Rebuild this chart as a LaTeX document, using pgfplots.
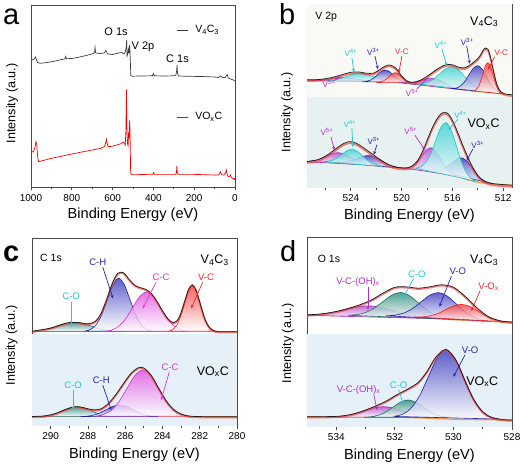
\documentclass[border=0pt]{standalone}
\usepackage{fontspec}
\setmainfont{Liberation Sans}
\usepackage{pgfplots}
\pgfplotsset{compat=1.18}
\usepackage{pgfplotstable}
\usetikzlibrary{arrows.meta}
\newcommand{\fs}[1]{\fontsize{#1}{#1}\selectfont}
\definecolor{cfit}{HTML}{1E1E1E}
\definecolor{cdata}{HTML}{F2453D}
\definecolor{cblue}{HTML}{3A3ABF}
\definecolor{cblueD}{HTML}{22229A}
\definecolor{cpur}{HTML}{B44AD0}
\definecolor{cpurD}{HTML}{9B2BB8}
\definecolor{cmag}{HTML}{E050E0}
\definecolor{cmagD}{HTML}{C830C8}
\definecolor{ccyan}{HTML}{38D0D0}
\definecolor{ccyanD}{HTML}{22C0C4}
\definecolor{cteal}{HTML}{2A8A78}
\definecolor{ctealD}{HTML}{1F6F62}
\definecolor{cred}{HTML}{F23A3A}
\definecolor{credD}{HTML}{F01E1E}
\definecolor{cbase}{HTML}{F29A52}
\definecolor{cyel}{HTML}{E2DF90}
\definecolor{bandB}{HTML}{E8F1F1}
\definecolor{bandBu}{HTML}{F9FAF6}
\definecolor{bandC}{HTML}{E6F0F8}
\definecolor{frame}{HTML}{4A4A4A}
\definecolor{labcyan}{HTML}{20C8D0}
\definecolor{labblue}{HTML}{2525A8}
\definecolor{labpur}{HTML}{B030C8}
\definecolor{labmag}{HTML}{D838D8}
\definecolor{labred}{HTML}{F02828}
\definecolor{cgray}{HTML}{3C3C3C}
\tikzset{
 comp/.style 2 args={draw=#1, line width=0.6pt, smooth, top color=#2, bottom color=white, fill opacity=0.8},
 arr/.style={-{Stealth[length=3.5pt,width=3pt]}, line width=0.7pt},
 datal/.style={smooth, draw=cdata, line width=1.8pt, opacity=0.7},
 fitl/.style={smooth, draw=cfit, line width=0.7pt},
 lab/.style={font=\fs{9.5}, inner sep=0pt},
 labs/.style={font=\fs{8}, inner sep=0pt},
}
\pgfplotsset{
 xps/.style={
  scale only axis, x dir=reverse, ymin=0, ytick=\empty,
  tick align=outside, xtick pos=bottom,
  axis line style={draw=frame, line width=0.9pt},
  every tick/.style={draw=frame, line width=0.8pt},
  major tick length=3.5pt, minor tick length=2pt,
  ticklabel style={font=\fs{10}},
  /pgf/number format/assume math mode=true,
  /pgf/number format/1000 sep={},
  xlabel={Binding Energy (eV)}, ylabel={Intensity (a.u.)},
  xlabel style={font=\fs{14.6}, at={(axis description cs:0.5,-0.155)}, anchor=center},
  ylabel style={font=\fs{12.6}, anchor=center},
  anchor=south west, clip=true,
 }}

% ---- envelopes ----
\pgfplotstableread{
x y
511.3 93
511.8 93.6
512.2 96.3
512.5 103.4
512.8 118.8
513.0 130.7
513.2 138.6
513.4 139.7
513.6 136.9
513.8 132.3
514.0 128.9
514.3 125.7
514.6 122.8
515.0 119.9
515.5 120.5
516.0 122.9
516.5 123
517.0 120.1
517.5 115.9
518.0 111.3
518.5 107.6
519.0 105.3
519.5 106.1
520.0 111.7
520.5 120.1
521.0 122.8
521.3 121.6
521.7 118.4
522.2 114.5
522.8 114.5
523.3 115.6
524.0 115.4
524.7 113
525.5 110.2
526.5 108.2
527.5 108
}\envBu
\pgfplotstableread{
x y
511.3 2.5
512.5 3.6
513.0 4.5
513.5 6.8
513.9 10.8
514.3 18.2
514.6 25.5
514.9 33.8
515.2 42.9
515.5 52.6
515.8 61.9
516.1 69.7
516.4 74.6
516.7 75.3
517.0 72.6
517.3 66.9
517.6 59.4
517.9 50.2
518.2 40.7
518.5 32.3
518.8 26.1
519.2 21.5
519.6 19.8
520.2 20.1
520.8 21.9
521.3 24.9
521.8 29
522.3 33.6
522.8 38.1
523.3 42.5
523.8 45.7
524.2 45.9
524.6 44
525.0 40.6
525.5 35.9
526.0 31.6
526.6 28
527.5 26.2
}\envBl
\pgfplotstableread{
x y
280 94
281.0 94.1
281.4 96.8
281.7 105.6
282.0 123.7
282.2 135.7
282.4 140.9
282.6 136.1
282.8 124.7
283.1 108.2
283.4 103
283.7 106.7
284.0 114.9
284.3 124.4
284.6 132.3
284.9 136.4
285.2 138.1
285.5 140.7
285.8 146.7
286.1 153
286.4 152.3
286.7 141.8
287.0 125.9
287.3 112
287.6 104.4
288.0 101.9
288.5 103.1
289.0 103.1
289.5 100.7
290.0 97.6
291.0 94.4
}\envCu
\pgfplotstableread{
x y
280 9
281.5 9
282.5 9.5
283.0 11.6
283.4 16.1
283.8 24.8
284.2 37.3
284.6 50.2
285.0 57.7
285.3 57.9
285.7 52
286.1 41.8
286.5 31.1
286.9 22.2
287.3 16.8
287.7 15.9
288.1 17.4
288.5 19
288.9 18.2
289.3 15.5
289.8 11.8
290.3 9.8
291 9.2
}\envCl
\pgfplotstableread{
x y
528.0 104.6
528.4 105.8
528.8 110
529.2 118.9
529.6 130.3
530.0 139.5
530.4 141.9
530.8 139.9
531.2 138.5
531.6 139.8
532.0 139.4
532.4 133.6
532.8 126.7
533.2 121.9
533.6 118.2
534.0 115.2
534.5 112.8
535.0 111.8
}\envDu
\pgfplotstableread{
x y
528.0 6.7
528.3 7.1
528.7 9.4
529.0 14.9
529.3 26.9
529.6 45.7
529.9 65.7
530.25 77.3
530.6 69.5
530.9 55.2
531.2 44.3
531.55 37.8
531.9 32.4
532.3 25.5
532.7 20.2
533.1 15.6
533.5 12.2
533.9 10.5
534.3 10.1
535.0 10
}\envDl

\begin{document}
\begin{tikzpicture}
\path[use as bounding box] (0pt,0pt) rectangle (524pt,470pt);

% ================= panel a =================
\begin{axis}[xps, at={(31pt,283pt)}, width=204pt, height=182pt,
  xmin=0, xmax=1000, ymax=182, xtick={0,200,...,1000}, minor x tick num=1,
  ylabel style={at={(axis description cs:-0.093,0.46)}}]
\addplot[draw=cgray, line width=0.7pt] coordinates {
(1000,127.7)(992,127)(985,128)(978,130)(974,128)(968,124.5)(955,123.7)(920,124.5)(880,126)(850,127.5)(834,128)(830,130.5)(826,128.3)(800,128.5)(760,130)(720,132)(694,133.5)(688,135)(686,139.5)(683,134)(660,133.5)(640,134)(634,136.5)(630,135.5)(625,133)(600,132.5)(570,134)(555,134.5)(545,133)(538,135)(533,140)(531,147)(529,131)(525,134)(522,137.5)(520,134)(517,142)(515,136)(513,126)(511,111.5)(505,110.8)(460,111)(405,111.2)(400,113.5)(396,111.2)(350,111)(300,111.2)(290,111.8)(286,116)(284,122)(282,114.5)(278,111)(250,110.8)(200,110.6)(150,110.4)(100,110)(80,109.5)(72,111)(67,110.5)(60,109.5)(48,109.5)(42,111.5)(38,112.3)(33,109)(25,108.2)(15,107.5)(8,107)(0,106)};
\addplot[draw=red, line width=0.7pt] coordinates {
(1000,37)(995,35.3)(988,35)(980,40)(976,45.3)(972,43)(967,29)(962,25.3)(940,26.5)(900,28.7)(850,30.8)(800,33)(750,35)(700,37)(660,38.6)(640,40.5)(634,44)(630,47.7)(627,44)(622,40.3)(600,40.8)(580,42)(560,43.2)(548,45)(543,44)(538,42)(535,55)(532,97.7)(530,60)(528,47)(526,42)(524,41)(522,52)(520,50)(518,60)(516,67)(515,58)(513,35)(511.5,13.5)(505,12.2)(450,12.5)(402,12.8)(399,14.3)(395,12.6)(320,12.6)(290,12.7)(287,15)(285,21)(283,14)(280,12.8)(240,12.6)(200,12.6)(150,12.3)(100,12)(80,12)(72,15.3)(66,12.3)(55,12)(47,13.7)(42,17)(38,12)(32,10)(25,11)(22,12)(18,9.7)(10,8.5)(5,7.7)(2,8.5)(0,7)};
\node[font=\fs{11}] at (axis cs:583,155) {O 1s};
\node[font=\fs{11}] at (axis cs:451,140) {V 2p};
\node[font=\fs{11}] at (axis cs:282,128) {C 1s};
\draw[cgray, line width=0.8pt] (axis cs:285,157) -- (axis cs:228,157);
\node[font=\fs{10.5}, anchor=west] at (axis cs:212,157) {V\textsubscript{4}C\textsubscript{3}};
\draw[red, line width=0.8pt] (axis cs:285,70) -- (axis cs:228,70);
\node[font=\fs{10.5}, anchor=west] at (axis cs:212,70) {VO\textsubscript{x}C};
\end{axis}

% ================= panel b =================
\begin{axis}[xps, at={(307pt,282.3pt)}, width=205pt, height=183.7pt,
  xmin=511.3, xmax=527.46, ymax=183.7, xtick={512,516,520,524}, minor xtick={514,518,522,526},
  ylabel style={at={(axis description cs:-0.097,0.41)}}]
\fill[bandBu] (rel axis cs:0,0.494) rectangle (rel axis cs:1,1);
\fill[bandB] (rel axis cs:0,0) rectangle (rel axis cs:1,0.494);
% upper baseline
\addplot[draw=cyel, line width=1.3pt, smooth] coordinates {(511.3,93)(512,93.6)(513,94.8)(514,96)(515,97.5)(516,99)(517,100.5)(518,102.2)(519,104)(520,104.8)(521,105.5)(523,106.5)(525,107.3)(527.5,108)};
% upper components
\addplot[comp={cpurD}{cpur}] coordinates {(521.7,107.0)(522.2,107.1)(522.7,107.4)(523.2,108.0)(523.7,108.8)(524.2,109.7)(524.7,110)(525.2,109.7)(525.7,108.8)(526.2,108.0)(526.7,107.4)(527.2,107.1)(527.7,107.0)} -- cycle;
\addplot[comp={ccyanD}{ccyan}] coordinates {(520.3,106.6)(520.8,106.9)(521.3,107.6)(521.8,109.1)(522.3,111.4)(522.8,113.6)(523.3,114.5)(523.8,113.6)(524.3,111.4)(524.8,109.1)(525.3,107.6)(525.8,106.9)(526.3,106.6)} -- cycle;
\addplot[comp={cblueD}{cblue}] coordinates {(519.5,105.8)(519.8,106.2)(520.1,107.3)(520.4,109.6)(520.7,113.0)(521.0,116.3)(521.3,117.7)(521.6,116.3)(521.9,113.0)(522.2,109.6)(522.5,107.3)(522.8,106.2)(523.1,105.8)} -- cycle;
\addplot[comp={credD}{cred}] coordinates {(519.0,105.1)(519.25,105.4)(519.5,106.4)(519.75,108.2)(520.0,111.1)(520.25,113.8)(520.5,115)(520.75,113.8)(521.0,111.1)(521.25,108.2)(521.5,106.4)(521.75,105.4)(522.0,105.1)} -- cycle;
\addplot[comp={cpurD}{cpur}] coordinates {(514.8,97.3)(515.25,98.3)(515.7,99.6)(516.15,101.8)(516.6,104.8)(517.05,107.7)(517.5,109.3)(517.95,109.2)(518.4,107.8)(518.85,106.2)(519.3,105.3)(519.75,105.0)(520.2,105.0)} -- cycle;
\addplot[comp={ccyanD}{ccyan}] coordinates {(513.0,95.2)(513.5,96.6)(514.0,99.2)(514.5,104.0)(515.0,110.8)(515.5,117.6)(516.0,121)(516.5,119.1)(517.0,113.8)(517.5,108.4)(518.0,105.2)(518.5,104.1)(519.0,104.2)} -- cycle;
\addplot[comp={cblueD}{cblue}] coordinates {(511.9,93.8)(512.25,95.0)(512.6,97.7)(512.95,103.0)(513.3,110.9)(513.65,118.5)(514.0,122)(514.35,119.4)(514.7,112.7)(515.05,105.7)(515.4,101.3)(515.75,99.4)(516.1,99.3)} -- cycle;
\addplot[comp={credD}{cred}] coordinates {(512.0,93.9)(512.2,95.1)(512.4,98.2)(512.6,104.0)(512.8,112.8)(513.0,121.3)(513.2,125)(513.4,121.7)(513.6,113.6)(513.8,105.4)(514.0,100.1)(514.2,97.5)(514.4,96.7)} -- cycle;
\addplot[datal, yshift=-1.2pt] table {\envBu};
\addplot[fitl] table {\envBu};
% lower baseline
\addplot[draw=cbase, line width=1.3pt, smooth] coordinates {(511.3,2.5)(512,3)(513,4)(514,5.5)(514.5,7)(515,8.7)(515.5,11)(516,13)(516.5,15)(517,16.5)(517.5,17.7)(518,18.3)(519,19)(520,19.5)(521,20.5)(522,22)(523,23.5)(524,24.5)(525,25)(526,25.8)(527.5,26)};
% lower components
\addplot[comp={cpurD}{cpur}] coordinates {(522.3,22.4)(522.75,23.4)(523.2,25.1)(523.65,27.4)(524.1,30.7)(524.55,33.6)(525.0,35)(525.45,34.2)(525.9,31.8)(526.35,29.2)(526.8,27.3)(527.25,26.4)(527.7,26.1)} -- cycle;
\addplot[comp={cblueD}{cblue}] coordinates {(519.8,19.5)(520.25,20.1)(520.7,21.5)(521.15,23.7)(521.6,27.1)(522.05,30.2)(522.5,32)(522.95,31.6)(523.4,29.7)(523.85,27.4)(524.3,25.9)(524.75,25.3)(525.2,25.2)} -- cycle;
\addplot[comp={ccyanD}{ccyan}] coordinates {(521.5,21.3)(521.9,22.4)(522.3,24.2)(522.7,27.5)(523.1,32.0)(523.5,36.4)(523.9,38.4)(524.3,37.0)(524.7,33.4)(525.1,29.7)(525.5,27.3)(525.9,26.3)(526.3,26.0)} -- cycle;
\addplot[comp={cblueD}{cblue}] coordinates {(512.8,4.0)(513.2,5.1)(513.6,7.5)(514.0,12.0)(514.4,18.8)(514.8,25.8)(515.2,29.6)(515.6,29.2)(516.0,25.1)(516.4,21.1)(516.8,18.7)(517.2,18.1)(517.6,18.1)} -- cycle;
\addplot[comp={cpurD}{cpur}] coordinates {(515.6,11.7)(515.95,13.8)(516.3,17.2)(516.65,22.6)(517.0,29.8)(517.35,36.8)(517.7,39.9)(518.05,37.7)(518.4,31.9)(518.75,25.9)(519.1,22.1)(519.45,20.2)(519.8,19.6)} -- cycle;
\addplot[comp={ccyanD}{ccyan}] coordinates {(514.1,6.4)(514.5,9.2)(514.9,15.2)(515.3,26.3)(515.7,42.2)(516.1,57.5)(516.5,65)(516.9,60.4)(517.3,47.6)(517.7,34.1)(518.1,25.2)(518.5,20.9)(518.9,19.5)} -- cycle;
\addplot[datal, yshift=-1.5pt] table {\envBl};
\addplot[fitl] table {\envBl};
% texts
\node[font=\fs{10.5}, anchor=west] at (axis cs:527.07,171) {V 2p};
\node[font=\fs{12.5}, anchor=east] at (axis cs:512.1,166) {V\textsubscript{4}C\textsubscript{3}};
\node[font=\fs{12.5}, anchor=east] at (axis cs:512.0,63.5) {VO\textsubscript{x}C};
\node[labs, text=labcyan] at (axis cs:524.0,135) {V\textsuperscript{4+}};
\draw[arr, labcyan] (axis cs:523.92,130) -- (axis cs:523.76,115.5);
\node[labs, text=labblue] at (axis cs:522.23,136) {V\textsuperscript{3+}};
\draw[arr, labblue] (axis cs:522.1,131.5) -- (axis cs:521.87,118.5);
\node[labs, text=labred] at (axis cs:519.98,136) {V-C};
\draw[arr, labred] (axis cs:519.98,131.5) -- (axis cs:520.22,115);
\node[labs, text=labpur] at (axis cs:525.73,104) {V\textsuperscript{5+}};
\draw[arr, labpur] (axis cs:525.3,107) -- (axis cs:524.9,111.5);
\node[labs, text=labcyan] at (axis cs:516.9,143) {V\textsuperscript{4+}};
\draw[arr, labcyan] (axis cs:516.83,139) -- (axis cs:516.44,122);
\node[labs, text=labblue] at (axis cs:514.83,146) {V\textsuperscript{3+}};
\draw[arr, labblue] (axis cs:514.87,142) -- (axis cs:514.63,124);
\node[labs, text=labred] at (axis cs:512.15,135) {V-C};
\draw[arr, labred] (axis cs:512.66,131) -- (axis cs:513.2,118);
\node[labs, text=labpur] at (axis cs:519.16,94.5) {V\textsuperscript{5+}};
\draw[arr, labpur] (axis cs:518.8,98.5) -- (axis cs:518.0,109.5);
\node[labs, text=labpur] at (axis cs:525.89,56) {V\textsuperscript{5+}};
\draw[arr, labpur] (axis cs:525.57,51) -- (axis cs:525.3,37.5);
\node[labs, text=labcyan] at (axis cs:524.08,64) {V\textsuperscript{4+}};
\draw[arr, labcyan] (axis cs:523.92,59.5) -- (axis cs:523.84,40.5);
\node[labs, text=labblue] at (axis cs:522.19,47) {V\textsuperscript{3+}};
\draw[arr, labblue] (axis cs:521.95,43) -- (axis cs:522.19,33);
\node[labs, text=labpur] at (axis cs:519.28,57) {V\textsuperscript{5+}};
\draw[arr, labpur] (axis cs:518.96,52.5) -- (axis cs:518.17,38);
\node[labs, text=labcyan] at (axis cs:515.35,73) {V\textsuperscript{4+}};
\draw[arr, labcyan] (axis cs:515.55,68.5) -- (axis cs:516.3,58);
\node[labs, text=labblue] at (axis cs:514.0,43) {V\textsuperscript{3+}};
\draw[arr, labblue] (axis cs:514.39,38.5) -- (axis cs:514.87,27);
\end{axis}

% ================= panel c =================
\begin{axis}[xps, at={(32pt,44.3pt)}, width=205pt, height=187pt,
  xmin=280, xmax=291, ymax=187, xtick={280,282,...,290}, minor x tick num=1,
  ylabel style={at={(axis description cs:-0.1,0.43)}}]
\fill[bandC] (rel axis cs:0,0) rectangle (rel axis cs:1,0.489);
\addplot[draw=cbase, line width=1.3pt] coordinates {(280,94)(291,94)};
\addplot[comp={ctealD}{cteal}] coordinates {(286.05,94.1)(286.5,94.4)(286.95,95.3)(287.4,97.1)(287.85,99.8)(288.3,102.4)(288.75,103.5)(289.2,102.4)(289.65,99.8)(290.1,97.1)(290.55,95.3)(291.0,94.4)(291.45,94.1)} -- cycle;
\addplot[comp={cblueD}{cblue}] coordinates {(284.55,94.6)(284.85,96.4)(285.15,101.2)(285.45,111.4)(285.75,126.5)(286.05,141.2)(286.35,147.5)(286.65,141.2)(286.95,126.5)(287.25,111.4)(287.55,101.2)(287.85,96.4)(288.15,94.6)} -- cycle;
\addplot[comp={cmagD}{cmag}] coordinates {(282.6,94.4)(282.975,95.7)(283.35,99.4)(283.725,106.9)(284.1,118.1)(284.475,129.0)(284.85,133.7)(285.225,129.0)(285.6,118.1)(285.975,106.9)(286.35,99.4)(286.725,95.7)(287.1,94.4)} -- cycle;
\addplot[comp={credD}{cred}] coordinates {(281.14,94.5)(281.35,96.1)(281.56,100.3)(281.77,109.2)(281.98,122.3)(282.19,135.2)(282.4,140.7)(282.61,135.2)(282.82,122.3)(283.03,109.2)(283.24,100.3)(283.45,96.1)(283.66,94.5)} -- cycle;
\addplot[datal, yshift=-0.8pt] table {\envCu};
\addplot[fitl] table {\envCu};
\addplot[draw=cbase, line width=1.3pt] coordinates {(280,9)(291,9)};
\addplot[comp={ctealD}{cteal}] coordinates {(286.35,9.1)(286.725,9.4)(287.1,10.4)(287.475,12.3)(287.85,15.1)(288.225,17.8)(288.6,19)(288.975,17.8)(289.35,15.1)(289.725,12.3)(290.1,10.4)(290.475,9.4)(290.85,9.1)} -- cycle;
\addplot[comp={cblueD}{cblue}] coordinates {(284.2,9.1)(284.55,9.5)(284.9,10.6)(285.25,12.8)(285.6,16.1)(285.95,19.3)(286.3,20.7)(286.65,19.3)(287.0,16.1)(287.35,12.8)(287.7,10.6)(288.05,9.5)(288.4,9.1)} -- cycle;
\addplot[comp={cmagD}{cmag}] coordinates {(282.5,9.5)(282.925,11.1)(283.35,15.3)(283.775,24.2)(284.2,37.3)(284.625,50.2)(285.05,55.7)(285.475,50.2)(285.9,37.3)(286.325,24.2)(286.75,15.3)(287.175,11.1)(287.6,9.5)} -- cycle;
\addplot[datal, yshift=-0.8pt] table {\envCl};
\addplot[fitl] table {\envCl};
\node[font=\fs{10.5}, anchor=west] at (axis cs:290.75,167.4) {C 1s};
\node[font=\fs{12.5}, anchor=east] at (axis cs:280.25,165.7) {V\textsubscript{4}C\textsubscript{3}};
\node[font=\fs{12.5}, anchor=east] at (axis cs:280.25,54) {VO\textsubscript{x}C};
\node[lab, text=labblue] at (axis cs:287.47,163.4) {C-H};
\draw[arr, labblue] (axis cs:287.2,158.5) -- (axis cs:286.66,127.4);
\node[lab, text=labmag] at (axis cs:284.07,148) {C-C};
\draw[arr, labmag] (axis cs:284.34,143.5) -- (axis cs:285.06,117.4);
\node[lab, text=labred] at (axis cs:281.66,148) {V-C};
\draw[arr, labred] (axis cs:281.84,143.5) -- (axis cs:282.46,117.4);
\node[lab, text=labcyan] at (axis cs:288.89,129) {C-O};
\draw[arr, labcyan] (axis cs:288.89,124) -- (axis cs:288.89,99);
\node[lab, text=labcyan] at (axis cs:288.8,40) {C-O};
\draw[arr, labcyan] (axis cs:288.8,35.5) -- (axis cs:288.8,15.7);
\node[lab, text=labblue] at (axis cs:287.28,45) {C-H};
\draw[arr, labblue] (axis cs:287.2,40.5) -- (axis cs:286.75,15.7);
\node[lab, text=labmag] at (axis cs:283.59,58.4) {C-C};
\draw[arr, labmag] (axis cs:283.63,54) -- (axis cs:284.07,25.7);
\end{axis}

% ================= panel d =================
\begin{axis}[xps, at={(307pt,43.3pt)}, width=205pt, height=189pt,
  xmin=528, xmax=535, ymax=189, xtick={528,530,532,534}, minor x tick num=1,
  ylabel style={at={(axis description cs:-0.093,0.44)}}]
\fill[bandC] (rel axis cs:0,0) rectangle (rel axis cs:1,0.49);
\addplot[draw=cbase, line width=1.3pt, smooth] coordinates {(528,104.5)(529,105.5)(530,107)(531,109)(532,110.5)(533,111)(535,111.5)};
\addplot[comp={cpurD}{cpur}] coordinates {(530.5,107.9)(530.9,108.8)(531.3,110.5)(531.7,112.9)(532.1,116.4)(532.5,119.5)(532.9,120.9)(533.3,119.8)(533.7,117.3)(534.1,114.5)(534.5,112.7)(534.9,111.9)(535.3,111.6)} -- cycle;
\addplot[comp={ctealD}{cteal}] coordinates {(530.0,107.3)(530.3,108.7)(530.6,111.5)(530.9,116.6)(531.2,123.9)(531.5,131.0)(531.8,134.2)(532.1,131.7)(532.4,125.2)(532.7,118.6)(533.0,114.2)(533.3,112.1)(533.6,111.4)} -- cycle;
\addplot[comp={cblueD}{cblue}] coordinates {(528.7,105.5)(529.0,106.6)(529.3,109.4)(529.6,114.7)(529.9,122.6)(530.2,130.4)(530.5,134)(530.8,131.6)(531.1,125.0)(531.4,118.1)(531.7,113.6)(532.0,111.6)(532.3,110.9)} -- cycle;
\addplot[comp={credD}{cred}] coordinates {(528.05,104.7)(528.325,105.5)(528.6,107.3)(528.875,110.6)(529.15,115.3)(529.425,120.0)(529.7,122.3)(529.975,121.0)(530.25,117.2)(530.525,113.2)(530.8,110.8)(531.075,109.8)(531.35,109.8)} -- cycle;
\addplot[datal, yshift=-0.8pt] table {\envDu};
\addplot[fitl] table {\envDu};
\addplot[draw=cbase, line width=1.3pt, smooth] coordinates {(528,6.7)(529,7)(530,7.5)(531,8.7)(532,9.5)(535,10)};
\addplot[comp={cpurD}{cpur}] coordinates {(530.45,9.6)(530.775,10.0)(531.1,10.9)(531.425,12.9)(531.75,15.9)(532.075,18.8)(532.4,20.0)(532.725,18.8)(533.05,15.9)(533.375,12.9)(533.7,10.9)(534.025,10.0)(534.35,9.6)} -- cycle;
\addplot[comp={ctealD}{cteal}] coordinates {(530.05,9.4)(530.3,10.0)(530.55,11.6)(530.8,14.9)(531.05,19.8)(531.3,24.6)(531.55,26.7)(531.8,24.6)(532.05,19.8)(532.3,14.9)(532.55,11.6)(532.8,10.0)(533.05,9.4)} -- cycle;
\addplot[comp={cblueD}{cblue}] coordinates {(528.45,7.6)(528.75,9.9)(529.05,16.3)(529.35,29.5)(529.65,49.2)(529.95,68.4)(530.25,76.8)(530.55,69.0)(530.85,50.4)(531.15,31.2)(531.45,18.4)(531.75,12.3)(532.05,10.3)} -- cycle;
\addplot[datal, yshift=-0.8pt] table {\envDl};
\addplot[fitl] table {\envDl};
\node[font=\fs{10.5}, anchor=west] at (axis cs:534.75,168) {O 1s};
\node[font=\fs{12.5}, anchor=east] at (axis cs:528.35,167) {V\textsubscript{4}C\textsubscript{3}};
\node[font=\fs{12.5}, anchor=east] at (axis cs:528.35,45) {VO\textsubscript{x}C};
\node[lab, text=labpur] at (axis cs:533.26,144.7) {V-C-(OH)\textsubscript{x}};
\draw[arr, labpur] (axis cs:532.92,140) -- (axis cs:532.92,116.7);
\node[lab, text=labcyan] at (axis cs:531.25,152.4) {C-O};
\draw[arr, labcyan] (axis cs:531.36,148) -- (axis cs:531.76,126.7);
\node[lab, text=labblue] at (axis cs:529.85,155) {V-O};
\draw[arr, labblue] (axis cs:530.07,150.5) -- (axis cs:530.48,120);
\node[lab, text=labred] at (axis cs:528.8,140) {V-O\textsubscript{x}};
\draw[arr, labred] (axis cs:529.09,136) -- (axis cs:529.39,115.7);
\node[lab, text=labblue] at (axis cs:529.43,76.7) {V-O};
\draw[arr, labblue] (axis cs:529.6,72) -- (axis cs:530.0,50);
\node[lab, text=labcyan] at (axis cs:531.87,41.7) {C-O};
\draw[arr, labcyan] (axis cs:531.87,37) -- (axis cs:531.7,21.7);
\node[lab, text=labpur] at (axis cs:533.24,36.7) {V-C-(OH)\textsubscript{x}};
\draw[arr, labpur] (axis cs:532.72,32.4) -- (axis cs:532.61,16.7);
\end{axis}

% panel letters
\node[font=\fs{29}, anchor=base west, inner sep=0pt] at (3pt,445pt) {a};
\node[font=\fs{29}, anchor=base west, inner sep=0pt] at (279pt,445pt) {b};
\node[font=\bfseries\fs{29}, anchor=base west, inner sep=0pt] at (3pt,208pt) {c};
\node[font=\fs{29}, anchor=base west, inner sep=0pt] at (280pt,208pt) {d};
\end{tikzpicture}
\end{document}
